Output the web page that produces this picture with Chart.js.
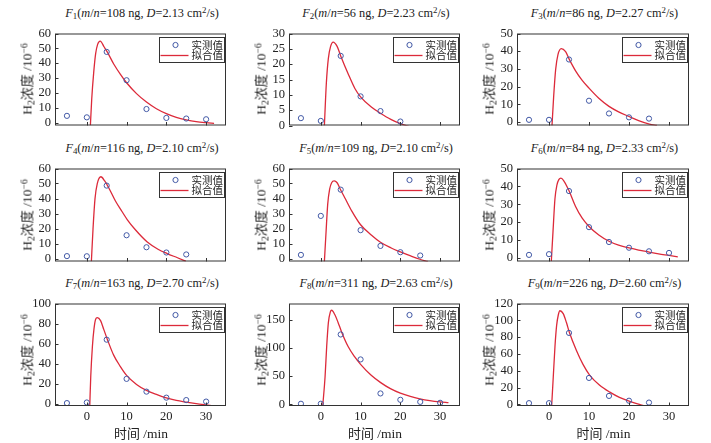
<!DOCTYPE html>
<html>
<head>
<meta charset="utf-8">
<script src="https://cdn.jsdelivr.net/npm/chart.js@4.4.1/dist/chart.umd.min.js"></script>
<style>
  body { margin: 0; background: #fff; width: 711px; height: 443px; position: relative; overflow: hidden;
         font-family: "Liberation Serif", "Noto Sans CJK SC", serif; color: #222; }
  .wrap { position: absolute; }
  .ttl { position: absolute; font-size: 12.3px; white-space: nowrap; transform: translate(-50%, -50%); }
  .ylab { position: absolute; font-size: 13.5px; white-space: nowrap; transform: translate(-50%, -50%) rotate(-90deg); }
  .xlab { position: absolute; font-size: 13.5px; white-space: nowrap; transform: translate(-50%, -50%); }
  .cjk { font-family: "Noto Sans CJK SC", sans-serif; font-size: 0.96em; }
  sub, sup { font-size: 0.72em; line-height: 0; position: relative; vertical-align: baseline; }
  sub { top: 0.3em; }
  sup { top: -0.45em; }
</style>
</head>
<body>
<script>
// sampling times of the measured points (min)
var measuredT = [-5, 0, 5, 10, 15, 20, 25, 30];

// measured H2 concentration, 10^-6
var measuredF1 = [4.5, 3.5, 47.6, 28.5, 9.1, 3.1, 2.7, 2.2];
var measuredF2 = [2.4, 1.5, 22.7, 9.5, 4.7, 1.3];
var measuredF3 = [1.2, 1.2, 35.3, 12, 4.8, 2.6, 1.9];
var measuredF4 = [1.6, 1.5, 48.6, 15.5, 7.5, 4, 2.7];
var measuredF5 = [2.4, 28.4, 45.9, 18.9, 8.4, 4.2, 2];
var measuredF6 = [1.7, 2.1, 37.4, 17.2, 8.9, 5.7, 3.7, 2.8];
var measuredF7 = [0.9, 1.5, 64, 25, 12.3, 6.3, 3.9, 2.4];
var measuredF8 = [1, 1, 124, 79.7, 19.3, 8, 4.3, 2.7];
var measuredF9 = [1.4, 1.4, 85, 31.4, 10, 4.3, 2.1];

// fitted curves: time and concentration
var fitTF1 = [0.9, 1.23, 1.73, 2.22, 2.72, 3.37, 4.36, 5.2, 6.8, 8.5, 10, 12.5, 15, 17.5, 20, 22.5, 25, 27.5, 30, 32];
var fitCF1 = [-1.8, 15.5, 33.6, 46.4, 52.7, 54.9, 50.9, 47.3, 39.3, 32.3, 26.8, 19.5, 13.8, 9.3, 6, 3.5, 1.8, 0.6, -0.1, -0.5];
var fitTF2 = [0.9, 1.39, 1.89, 2.46, 3.1, 4.1, 5, 7, 8.6, 10, 12.7, 15, 17.6, 20, 22.5];
var fitCF2 = [0, 13.8, 21.8, 25.8, 27.2, 25.8, 22.7, 16.5, 12, 9.35, 6, 4, 2, 0.6, -0.5];
var fitTF3 = [0.75, 1.16, 1.66, 2.24, 3.07, 4.15, 4.98, 6.64, 8.3, 10, 12.45, 15, 17.4, 20, 22.4, 25.1, 27];
var fitCF3 = [-2, 14.2, 29.6, 38.1, 41.5, 39.7, 35.8, 28.9, 23.5, 19.1, 13.4, 8.8, 5.7, 3.1, 0.8, -1.2, -2];
var fitTF4 = [1.15, 1.56, 2.06, 2.63, 3.54, 4.5, 5.5, 7.2, 8.8, 10.2, 12.1, 15.2, 17.9, 20.2, 22.8, 24.9];
var fitCF4 = [-1.8, 19.7, 39.9, 49.9, 54.5, 51.7, 47.2, 38.3, 31.5, 25.8, 19.5, 11, 6.2, 3.3, 0.5, -1.8];
var fitTF5 = [0.9, 1.32, 1.73, 2.22, 2.72, 3.37, 4.1, 5, 6.17, 7.8, 10, 12.76, 15, 17.7, 20, 22.6, 24.9, 26.9];
var fitCF5 = [-2, 17.8, 36.1, 46.2, 50.5, 51.7, 50.5, 45.7, 39.8, 31.6, 22.5, 15.5, 10.8, 7, 4.4, 1.7, -0.5, -2];
var fitTF6 = [0.58, 1.0, 1.49, 1.99, 2.49, 2.99, 3.73, 4.98, 6.64, 8.3, 10, 12.45, 15, 17.4, 20, 22.4, 25, 27.4, 30, 32.2];
var fitCF6 = [-1.8, 14.7, 33.1, 40.8, 43.9, 44.6, 43, 37.7, 28.8, 22.2, 17.6, 12.8, 9.3, 7.1, 5.6, 4.4, 3.3, 2.3, 1.4, 0.6];
var fitTF7 = [0.74, 0.99, 1.4, 1.81, 2.22, 2.63, 3.46, 4.28, 5.19, 6.75, 8.4, 10, 12.5, 15, 17.5, 20, 22.5, 25, 27.5, 30, 32];
var fitCF7 = [-2, 27.3, 57, 75, 84.4, 85.9, 82.9, 74, 64, 48.6, 37.5, 28.5, 19.5, 13.5, 9.5, 6, 3.5, 1.8, 0.3, -1, -2];
var fitTF8 = [0.5, 1.07, 1.48, 1.9, 2.39, 2.72, 3.54, 4.36, 5.2, 6.83, 8.48, 10, 12.6, 15.06, 17.5, 20, 22.5, 24.9, 27.4, 30, 32.1];
var fitCF8 = [-1.6, 49, 103, 145, 164, 167, 159, 145, 129, 103, 84.5, 71, 52, 38.5, 27.8, 19.8, 14, 9.8, 6.6, 4.3, 3];
var fitTF9 = [0.66, 1.07, 1.49, 1.9, 2.31, 2.73, 3.55, 4.38, 5.04, 6.86, 8.5, 10.2, 12.6, 15.2, 17.6, 20.2, 22.6, 23.8];
var fitCF9 = [-2, 32.9, 68.6, 93.6, 106, 111.4, 107.9, 97, 86.4, 64, 47.5, 34.5, 23, 14.5, 8.3, 3.5, 0, -2];

// panel titles
var massNg = [108, 56, 86, 116, 109, 84, 163, 311, 226];
var diffD = ['2.13', '2.23', '2.27', '2.10', '2.10', '2.33', '2.70', '2.63', '2.60'];

// axes
var xTicks = [0, 10, 20, 30];
var yTicksList = [
  [0, 10, 20, 30, 40, 50, 60], [0, 5, 10, 15, 20, 25, 30], [0, 10, 20, 30, 40, 50],
  [0, 10, 20, 30, 40, 50, 60], [0, 10, 20, 30, 40, 50, 60], [0, 10, 20, 30, 40, 50],
  [0, 20, 40, 60, 80, 100], [0, 50, 100, 150], [0, 20, 40, 60, 80, 100, 120]
];
var yMin = [-2, 0, -2, -2, -2, -2, -2, -3, -2];
var yMax = [60, 30, 50, 60, 60, 50, 100, 179, 120];

var legendLabels = ['实测值', '拟合值'];

var measuredAll = [measuredF1, measuredF2, measuredF3, measuredF4, measuredF5, measuredF6, measuredF7, measuredF8, measuredF9];
var fitTAll = [fitTF1, fitTF2, fitTF3, fitTF4, fitTF5, fitTF6, fitTF7, fitTF8, fitTF9];
var fitCAll = [fitCF1, fitCF2, fitCF3, fitCF4, fitCF5, fitCF6, fitCF7, fitCF8, fitCF9];

// layout of the plot frames in page pixels
var colL = [55, 289, 517], colR = [229, 463, 692];
var rowT = [23, 158, 293], rowB = [135, 271, 406];

var pointColor = '#4259a6';
var lineColor = '#dc2a3a';

// frame, inward ticks and the boxed legend inside the plot
var framePlugin = {
  id: 'frame',
  afterDraw: function (chart) {
    var ctx = chart.ctx, a = chart.chartArea, x = chart.scales.x, y = chart.scales.y;
    ctx.save();
    ctx.strokeStyle = '#333';
    ctx.lineWidth = 1;
    ctx.strokeRect(a.left + 0.5, a.top + 0.5, a.right - a.left - 1, a.bottom - a.top - 1);
    ctx.beginPath();
    x.ticks.forEach(function (t) {
      var px = Math.round(x.getPixelForValue(t.value)) + 0.5;
      ctx.moveTo(px, a.bottom); ctx.lineTo(px, a.bottom - 3.5);
    });
    y.ticks.forEach(function (t) {
      var py = Math.round(y.getPixelForValue(t.value)) + 0.5;
      ctx.moveTo(a.left, py); ctx.lineTo(a.left + 3.5, py);
    });
    ctx.stroke();

    // legend box
    var bw = 65, bh = 25;
    var bx = Math.round(a.right - 2 - bw) + 0.5, by = Math.round(a.top + 3) + 0.5;
    ctx.fillStyle = '#fff';
    ctx.fillRect(bx, by, bw, bh);
    ctx.strokeStyle = '#333';
    ctx.strokeRect(bx, by, bw, bh);
    var r1 = by + 7.5, r2 = by + 18;
    ctx.strokeStyle = pointColor;
    ctx.beginPath(); ctx.arc(bx + 16, r1, 2.6, 0, Math.PI * 2); ctx.stroke();
    ctx.strokeStyle = lineColor;
    ctx.lineWidth = 1.3;
    ctx.beginPath(); ctx.moveTo(bx + 1, r2); ctx.lineTo(bx + 29, r2); ctx.stroke();
    ctx.fillStyle = '#222';
    ctx.font = '10.5px "Noto Sans CJK SC"';
    ctx.textBaseline = 'middle';
    ctx.fillText(chart.data.datasets[0].label, bx + 32, r1);
    ctx.fillText(chart.data.datasets[1].label, bx + 32, r2);
    ctx.restore();
  }
};

function addDiv(cls, html, cx, cy) {
  var d = document.createElement('div');
  d.className = cls;
  d.innerHTML = html;
  d.style.left = cx + 'px';
  d.style.top = cy + 'px';
  document.body.appendChild(d);
}

for (var i = 0; i < 9; i++) {
  var col = i % 3, row = Math.floor(i / 3);
  var L = colL[col], R = colR[col], T = rowT[row], B = rowB[row];
  var extra = row === 2 ? 22 : 2;

  var wrap = document.createElement('div');
  wrap.className = 'wrap';
  wrap.style.left = (L - 40) + 'px';
  wrap.style.top = (T - 1) + 'px';
  var canvas = document.createElement('canvas');
  canvas.width = R - L + 42;
  canvas.height = B - T + 1 + extra;
  wrap.appendChild(canvas);
  document.body.appendChild(wrap);

  var pts = measuredAll[i].map(function (v, k) { return { x: measuredT[k], y: v }; });
  var fit = fitTAll[i].map(function (t, k) { return { x: t, y: fitCAll[i][k] }; });

  (function (yTicks) {
    new Chart(canvas, {
      type: 'scatter',
      data: {
        datasets: [{
          label: legendLabels[0],
          data: pts,
          pointStyle: 'circle',
          pointRadius: 2.6,
          borderColor: pointColor,
          backgroundColor: 'rgba(0,0,0,0)',
          borderWidth: 1
        }, {
          label: legendLabels[1],
          type: 'line',
          data: fit,
          borderColor: lineColor,
          borderWidth: 1.3,
          pointRadius: 0,
          fill: false,
          cubicInterpolationMode: 'monotone'
        }]
      },
      options: {
        responsive: false,
        animation: false,
        layout: { padding: { top: 1, right: 2, left: 0, bottom: 0 } },
        plugins: { legend: { display: false }, tooltip: { enabled: false } },
        scales: {
          x: {
            type: 'linear', min: -8, max: 35,
            grid: { display: false, drawTicks: false },
            border: { display: false },
            ticks: { display: row === 2, autoSkip: false, maxRotation: 0, padding: 3, color: '#222',
                     font: { family: 'Liberation Serif', size: 12.5 } },
            afterBuildTicks: function (s) { s.ticks = xTicks.map(function (v) { return { value: v }; }); },
            afterFit: function (s) { s.height = extra; }
          },
          y: {
            type: 'linear', min: yMin[i], max: yMax[i],
            grid: { display: false, drawTicks: false },
            border: { display: false },
            ticks: { autoSkip: false, padding: 4, color: '#222', font: { family: 'Liberation Serif', size: 12.5 } },
            afterBuildTicks: function (s) { s.ticks = yTicks.map(function (v) { return { value: v }; }); },
            afterFit: function (s) { s.width = 40; }
          }
        }
      },
      plugins: [framePlugin]
    });
  })(yTicksList[i]);

  addDiv('ttl', '<i>F</i><sub>' + (i + 1) + '</sub>(<i>m</i>/<i>n</i>=' + massNg[i] + ' ng, <i>D</i>=' + diffD[i] + ' cm<sup>2</sup>/s)',
         (L + R) / 2, T - 10.5);
  addDiv('ylab', 'H<sub>2</sub><span class="cjk">浓度</span> /10<sup>−6</sup>', L - 29, (T + B) / 2);
  if (row === 2) {
    addDiv('xlab', '<span class="cjk">时间</span> /min', (L + R) / 2 - 1, 431.5);
  }
}
</script>
</body>
</html>
